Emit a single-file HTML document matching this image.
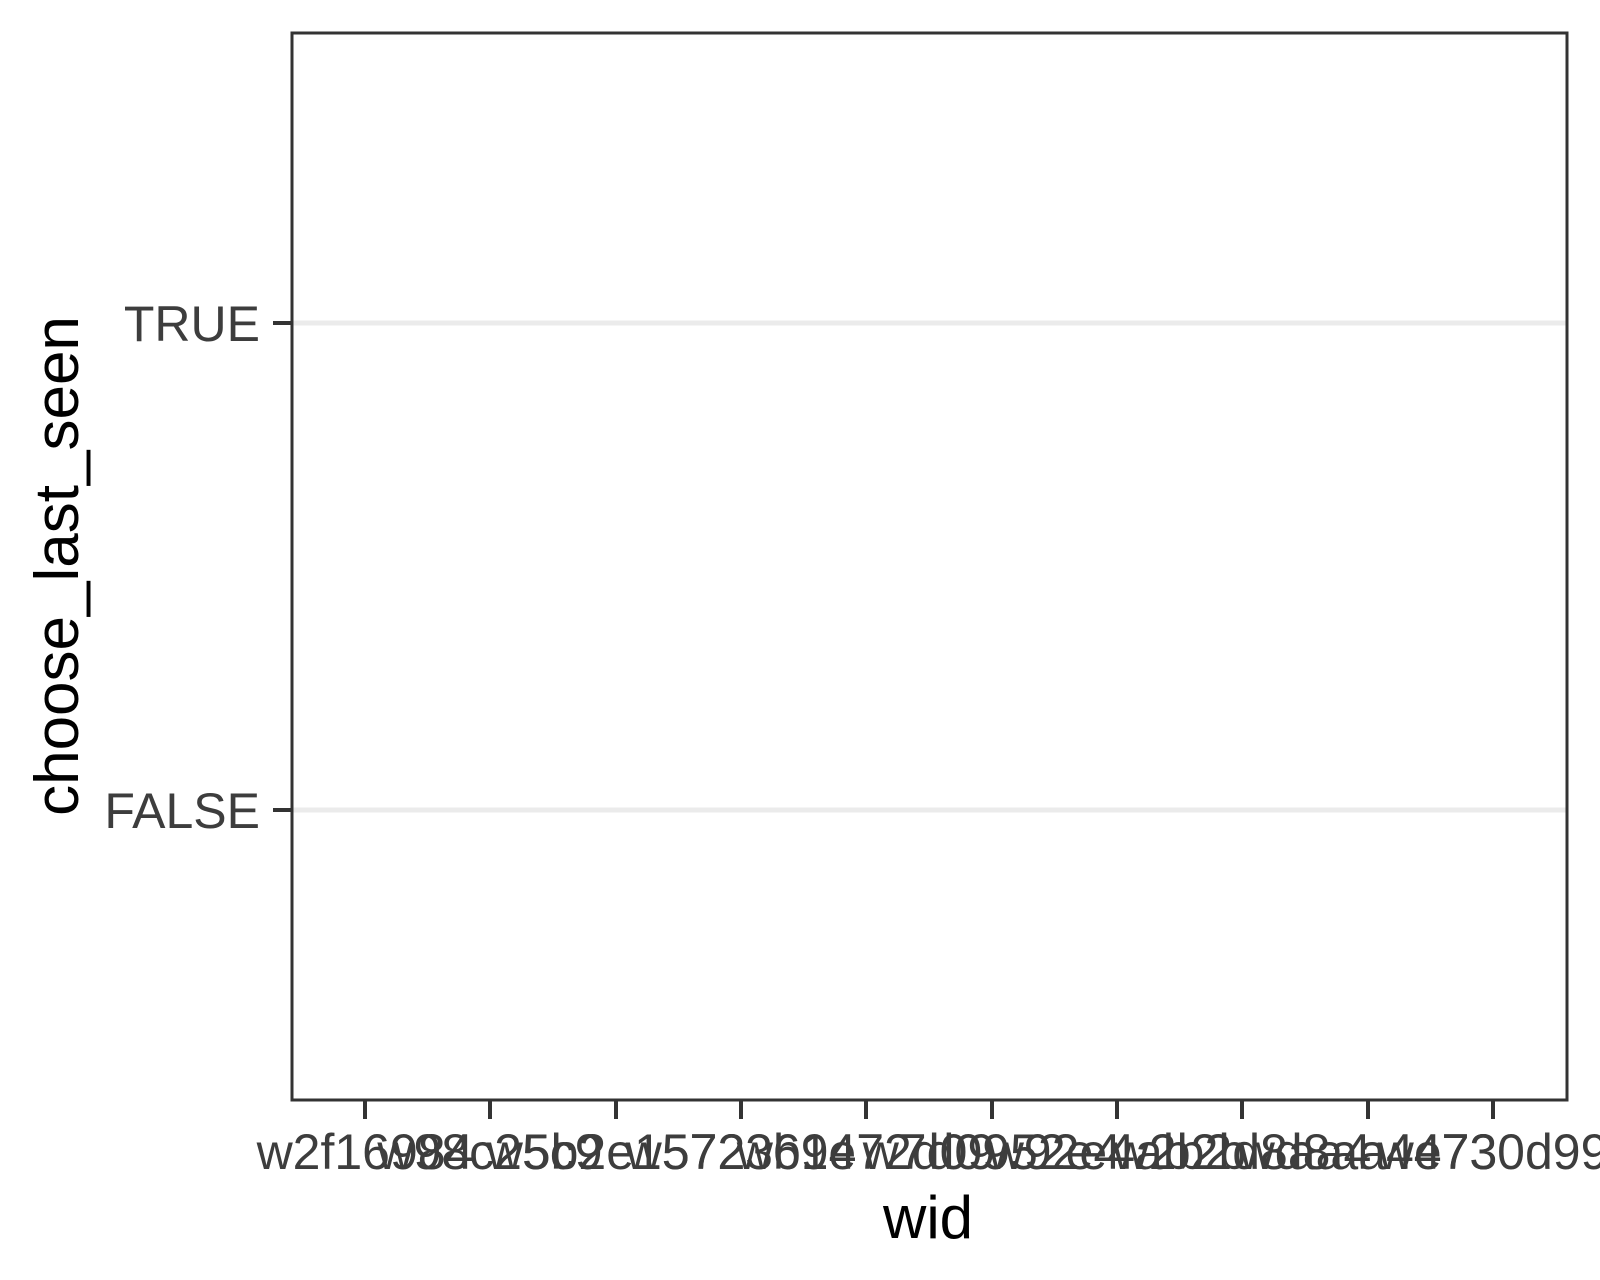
<!DOCTYPE html>
<html><head><meta charset="utf-8"><style>
html,body{margin:0;padding:0;background:#fff;}
svg{display:block;}
</style></head><body>
<svg width="1600" height="1280" viewBox="0 0 1600 1280" xmlns="http://www.w3.org/2000/svg" font-family="'Liberation Sans', sans-serif">
<rect width="1600" height="1280" fill="#fff"/>
<line x1="292" y1="323" x2="1567" y2="323" stroke="#ebebeb" stroke-width="5"/>
<line x1="292" y1="810" x2="1567" y2="810" stroke="#ebebeb" stroke-width="5"/>
<rect x="292" y="33" width="1275" height="1067" fill="none" stroke="#333" stroke-width="3"/>
<g stroke="#333" stroke-width="4">
<line x1="273" y1="323" x2="292" y2="323"/>
<line x1="273" y1="810" x2="292" y2="810"/>
<line x1="365" y1="1100" x2="365" y2="1119"/>
<line x1="490" y1="1100" x2="490" y2="1119"/>
<line x1="616" y1="1100" x2="616" y2="1119"/>
<line x1="741" y1="1100" x2="741" y2="1119"/>
<line x1="866" y1="1100" x2="866" y2="1119"/>
<line x1="992" y1="1100" x2="992" y2="1119"/>
<line x1="1117" y1="1100" x2="1117" y2="1119"/>
<line x1="1242" y1="1100" x2="1242" y2="1119"/>
<line x1="1368" y1="1100" x2="1368" y2="1119"/>
<line x1="1493" y1="1100" x2="1493" y2="1119"/>
</g>
<g fill="#3d3d3d" font-size="50" text-anchor="end">
<text x="260" y="341">TRUE</text>
<text x="260" y="828">FALSE</text>
</g>
<g fill="#3d3d3d" font-size="50" text-anchor="middle">
<text x="365" y="1169">w2f16984</text>
<text x="490" y="1169">w98c25c9</text>
<text x="616" y="1169">w5b2e1572</text>
<text x="741" y="1169">w5723b94</text>
<text x="866" y="1169">w61e72d09</text>
<text x="992" y="1169">w7d0952e4</text>
<text x="1117" y="1169">w92e4ab2b</text>
<text x="1242" y="1169">w2b2d8aa4</text>
<text x="1368" y="1169">wd8aa4e73</text>
<text x="1493" y="1169">w4730d99</text>
</g>
<text x="928" y="1238" font-size="60" text-anchor="middle" fill="#000">wid</text>
<text transform="translate(78,566) rotate(-90)" font-size="62" text-anchor="middle" fill="#000">choose_last_seen</text>
</svg>
</body></html>
